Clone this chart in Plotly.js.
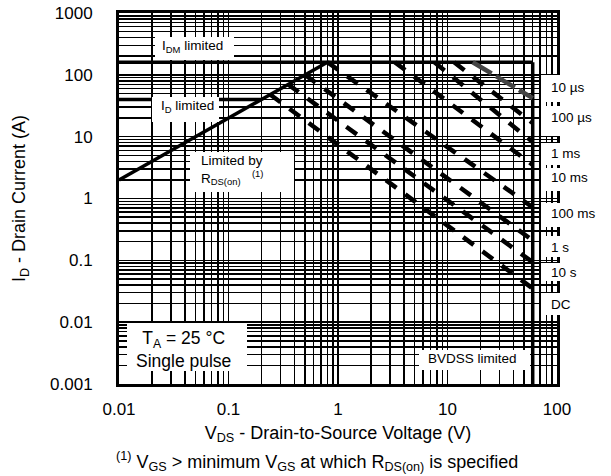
<!DOCTYPE html>
<html>
<head>
<meta charset="utf-8">
<script src="https://cdn.plot.ly/plotly-3.0.1.min.js"></script>
<style>html,body{margin:0;padding:0;background:#fff;}#chart{width:611px;height:476px;}</style>
</head>
<body>
<div id="chart"></div>
<script>
// ---- data ----
const xTickVals = [0.01, 0.1, 1, 10, 100];
const xTickText = ['0.01', '0.1', '1', '10', '100'];
const yTickVals = [0.001, 0.01, 0.1, 1, 10, 100, 1000];
const yTickText = ['0.001', '0.01', '0.1', '1', '10', '100', '1000'];

// limit lines
const rdsV = [0.01, 0.8];      const rdsI = [2, 160];        // R_DS(on) limit
const idmV = [0.01, 60];       const idmI = [160, 160];      // I_DM limit
const idV  = [0.01, 0.2];      const idI  = [40, 40];        // I_D limit
const bvV  = [60, 60];         const bvI  = [160, 0.001];    // BVDSS limit

// pulse-width curves (start on the limit envelope, end at BVDSS)
const pulseLabels = ['10 µs', '100 µs', '1 ms', '10 ms', '100 ms', '1 s', '10 s', 'DC'];
const pulseStartV = [17, 11.5, 7.6, 3.3, 0.8, 0.5, 0.35, 0.24];
const pulseStartI = [160, 160, 160, 160, 160, 100, 70, 48];
const pulseEndV   = [60, 60, 60, 60, 60, 60, 60, 60];
const pulseEndI   = [42, 16.6, 8.2, 3.5, 0.72, 0.21, 0.093, 0.035];

// ---- layout helpers (pixel -> paper) ----
const W = 611, H = 476, L = 119, R = 557, T = 13, B = 384;
const px = v => (v - L) / (R - L);
const py = v => (B - v) / (B - T);
const FONT = '"Liberation Sans", Arial, sans-serif';

const traces = [];
const solid = (x, y) => ({x, y, type: 'scatter', mode: 'lines', hoverinfo: 'skip', showlegend: false,
  line: {color: '#000', width: 3.5}});
traces.push(solid(idmV, idmI));
traces.push(solid(idV, idI));
traces.push(solid(rdsV, rdsI));
traces.push(solid(bvV, bvI));
pulseLabels.forEach((lab, i) => {
  const gray = i === 0;
  traces.push({
    x: [pulseStartV[i], pulseEndV[i]], y: [pulseStartI[i], pulseEndI[i]],
    type: 'scatter', mode: 'lines', name: lab, hoverinfo: 'skip', showlegend: false,
    line: {color: gray ? '#444' : '#000', width: 4.5, dash: gray ? '22px,5px' : '13px,11px'}
  });
});

// white label boxes (pixel rectangles)
const boxes = [
  [155, 37, 234, 60],   // IDM limited
  [152, 97, 219, 122],  // ID limited
  [190, 152, 294, 192], // Limited by RDS(on)
  [127, 323, 247, 371], // TA box
  [419, 350, 530, 370], // BVDSS limited
  [541, 75, 611, 102], [541, 106, 611, 136], [541, 143, 611, 165], [541, 168, 611, 191],
  [541, 203, 611, 227], [541, 236, 611, 257], [541, 263, 611, 281], [541, 293, 611, 315]
];
const shapes = boxes.map(b => ({type: 'rect', xref: 'paper', yref: 'paper', layer: 'above',
  x0: px(b[0]), x1: px(b[2]), y0: py(b[3]), y1: py(b[1]), fillcolor: '#fff', line: {width: 0}}));

const ann = (text, x, y, size, xanchor) => ({text, xref: 'paper', yref: 'paper', x: px(x), y: py(y),
  xanchor: xanchor || 'center', yanchor: 'middle', align: xanchor || 'center', showarrow: false,
  font: {family: FONT, size, color: '#000'}});
const annotations = [
  ann('I<sub>DM</sub> limited', 192, 46, 13.5),
  ann('I<sub>D</sub> limited', 187, 107, 13.5),
  ann('Limited by<br>R<sub>DS(on)</sub>   <sup>(1)</sup>', 199, 170, 13.5, 'left'),
  ann('T<sub>A</sub> = 25 °C<br>Single pulse', 183, 349, 17.5),
  ann('BVDSS limited', 472, 358, 13.5)
];
const labelY = [87, 117, 153, 177, 213, 247, 272, 304];
pulseLabels.forEach((lab, i) => annotations.push(ann(lab, 549, labelY[i], 13.5, 'left')));
annotations.push({text: '<sup>(1)</sup> V<sub>GS</sub> &gt; minimum V<sub>GS</sub> at which R<sub>DS(on)</sub> is specified',
  xref: 'paper', yref: 'paper', x: px(317), y: py(461), xanchor: 'center', yanchor: 'middle',
  showarrow: false, font: {family: FONT, size: 18, color: '#000'}});

const axisCommon = {
  type: 'log', showline: true, linecolor: '#000', linewidth: 3, mirror: true,
  showgrid: true, gridcolor: '#000', gridwidth: 1.5, zeroline: false, ticks: '',
  tickfont: {family: FONT, size: 17, color: '#000'},
  minor: {dtick: 'D1', showgrid: true, gridcolor: '#000', gridwidth: 1.5, ticks: ''}
};
const layout = {
  width: W, height: H, margin: {l: L, r: W - R, t: T, b: H - B},
  paper_bgcolor: '#fff', plot_bgcolor: '#fff', showlegend: false,
  font: {family: FONT, color: '#000'},
  xaxis: Object.assign({}, axisCommon, {range: [-2, 2], tickvals: xTickVals, ticktext: xTickText,
    ticklabelstandoff: 8,
    title: {text: 'V<sub>DS</sub> - Drain-to-Source Voltage (V)', font: {family: FONT, size: 18, color: '#000'}, standoff: 8}}),
  yaxis: Object.assign({}, axisCommon, {range: [-3, 3], tickvals: yTickVals, ticktext: yTickText,
    ticklabelstandoff: 20,
    title: {text: 'I<sub>D</sub> - Drain Current (A)', font: {family: FONT, size: 18, color: '#000'}, standoff: 20}}),
  shapes, annotations
};
Plotly.newPlot('chart', traces, layout, {displayModeBar: false, staticPlot: true});
</script>
</body>
</html>
